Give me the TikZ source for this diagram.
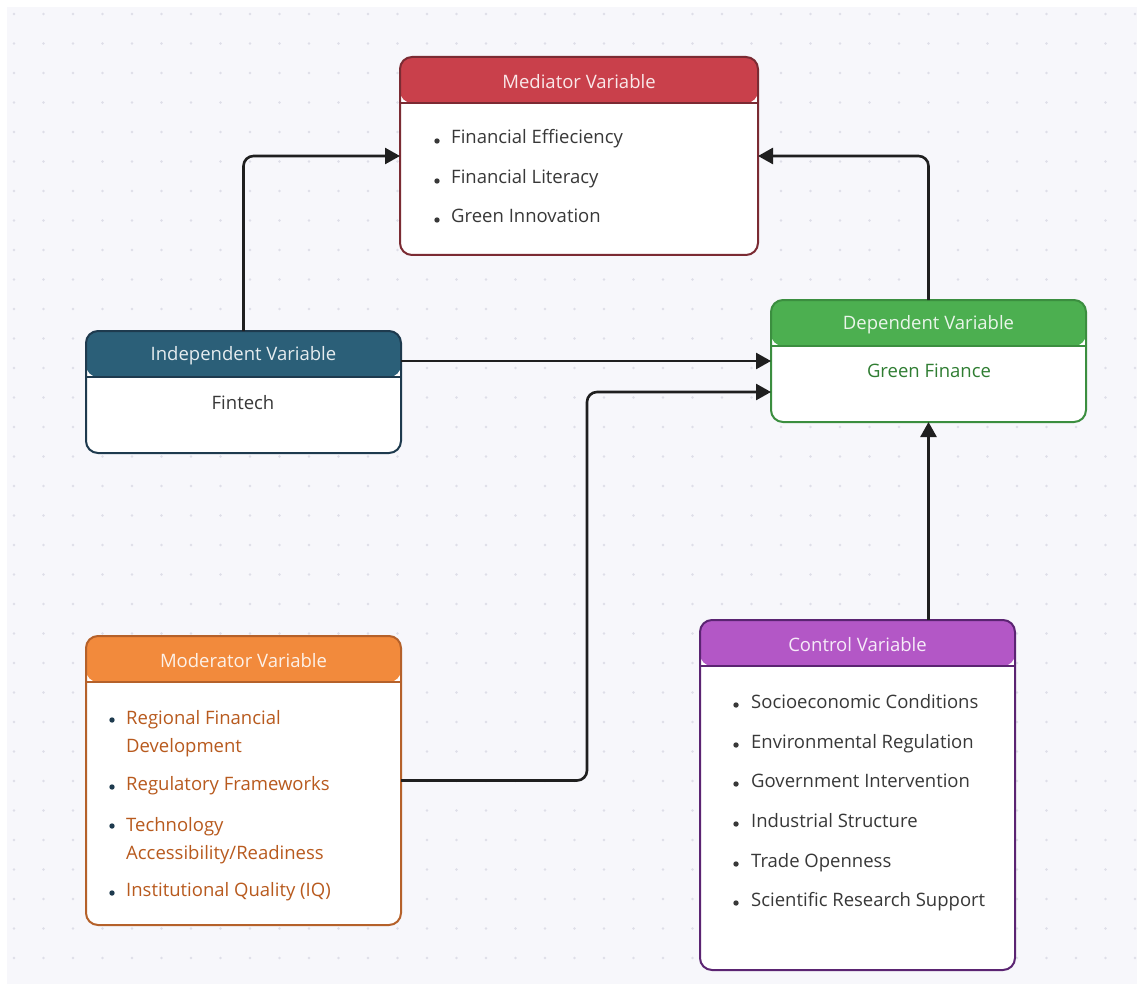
\documentclass[tikz,border=0pt]{standalone}
\usepackage{fontspec}
\setmainfont{Open Sans}
\usetikzlibrary{arrows.meta}
\definecolor{bgc}{HTML}{F7F7FB}
\definecolor{dotc}{HTML}{DEDEE8}
\definecolor{txt}{HTML}{383838}
\definecolor{medh}{HTML}{C9404B}\definecolor{medb}{HTML}{7B2B33}
\definecolor{indh}{HTML}{2B5F78}\definecolor{indb}{HTML}{1E3A4E}
\definecolor{deph}{HTML}{4CAF50}\definecolor{depb}{HTML}{3B8E3F}\definecolor{dept}{HTML}{2F7D32}
\definecolor{modh}{HTML}{F28A3C}\definecolor{modb}{HTML}{B5612A}\definecolor{modt}{HTML}{B85A1E}
\definecolor{ctlh}{HTML}{B357C6}\definecolor{ctlb}{HTML}{5B2472}
\tikzset{
  varbox/.style n args={3}{draw=#2, line width=2pt, fill=white, rounded corners=12pt,
    anchor=north west, inner sep=0pt, outer sep=0pt,
    path picture={\fill[#1] (path picture bounding box.north west) rectangle ([yshift=-46pt]path picture bounding box.north east);
      \draw[#2, line width=2pt] ([yshift=-46pt]path picture bounding box.north west) -- ([yshift=-46pt]path picture bounding box.north east);}},
  title/.style={font=\fontsize{18.5}{22}\selectfont, text=white!88!#1, inner sep=0pt},
  item/.style={font=\fontsize{18.5}{28}\selectfont, text=txt, anchor=west, inner sep=0pt, text height=14pt, text depth=4pt},
  mitem/.style={font=\fontsize{18.5}{28}\selectfont, text=modt, anchor=north west, inner sep=0pt, align=left},
  conn/.style={draw=black!88, line width=2.6pt, rounded corners=10pt, -{Triangle[length=15pt,width=16pt]}},
}
\begin{document}
\begin{tikzpicture}[x=1pt,y=-1pt]
\useasboundingbox (0,0) rectangle (1137,984);
\fill[white] (0,0) rectangle (1137,984);
\fill[bgc] (7,7) rectangle (1137,984);
\foreach \i in {0,...,38}{\foreach \j in {0,...,32}{
  \fill[dotc] (14+29.5*\i,14+29.5*\j) circle (1.3pt);}}

% boxes
\node[varbox={medh}{medb}{}, minimum width=358pt, minimum height=198pt] (med) at (400,57) {};
\node[varbox={indh}{indb}{}, minimum width=315pt, minimum height=122pt] (ind) at (86,331) {};
\node[varbox={deph}{depb}{}, minimum width=315pt, minimum height=122pt] (dep) at (771,300) {};
\node[varbox={modh}{modb}{}, minimum width=315pt, minimum height=289pt] (mod) at (86,636) {};
\node[varbox={ctlh}{ctlb}{}, minimum width=315pt, minimum height=350pt] (ctl) at (700,620) {};

% titles
\node[title=medh] (medt) at ([yshift=-25pt]med.north) {Mediator Variable};
\node[title=indh] (indt) at ([yshift=-25pt]ind.north) {Independent Variable};
\node[title=deph] (dept) at ([yshift=-25pt]dep.north) {Dependent Variable};
\node[title=modh] (modt) at ([yshift=-25pt]mod.north) {Moderator Variable};
\node[title=ctlh] (ctlt) at ([yshift=-25pt]ctl.north) {Control Variable};

% contents
\node[item, anchor=center] (fin) at (243,404) {Fintech};
\node[item, anchor=center, text=dept] (gf) at (929,372) {Green Finance};

\foreach \t/\y [count=\k] in {Financial Effieciency/139, Financial Literacy/179, Green Innovation/218}{
  \node[item] (m\k) at (451,\y) {\t};
  \fill[txt] (437,\y+2) circle (2.7pt);}

\foreach \t/\y [count=\k] in {Socioeconomic Conditions/703, Environmental Regulation/743, Government Intervention/782, Industrial Structure/822, Trade Openness/862, Scientific Research Support/901}{
  \node[item] (c\k) at (751,\y) {\t};
  \fill[txt] (736,\y+2) circle (2.7pt);}

\node[mitem] (o1) at (126,710) {Regional Financial\\Development};
\node[item, text=modt] (o2) at (126,785) {Regulatory Frameworks};
\node[mitem] (o3) at (126,817) {Technology\\Accessibility/Readiness};
\node[item, text=modt] (o4) at (126,891) {Institutional Quality (IQ)};
\foreach \y in {720,787,826,893}{\fill[indb] (112,\y) circle (2.7pt);}

% connectors
\draw[conn] (ind.north) |- (med.west);
\draw[conn] (dep.north) |- (med.east);
\draw[conn] (ind.east |- dep.west) -- (dep.west);
\coordinate (bend) at (587,780);
\draw[conn] (mod.east) -- (mod.east -| bend) |- ([yshift=-31pt]dep.west);
\draw[conn] (ctl.north -| dep.south) -- (dep.south);
\end{tikzpicture}
\end{document}
